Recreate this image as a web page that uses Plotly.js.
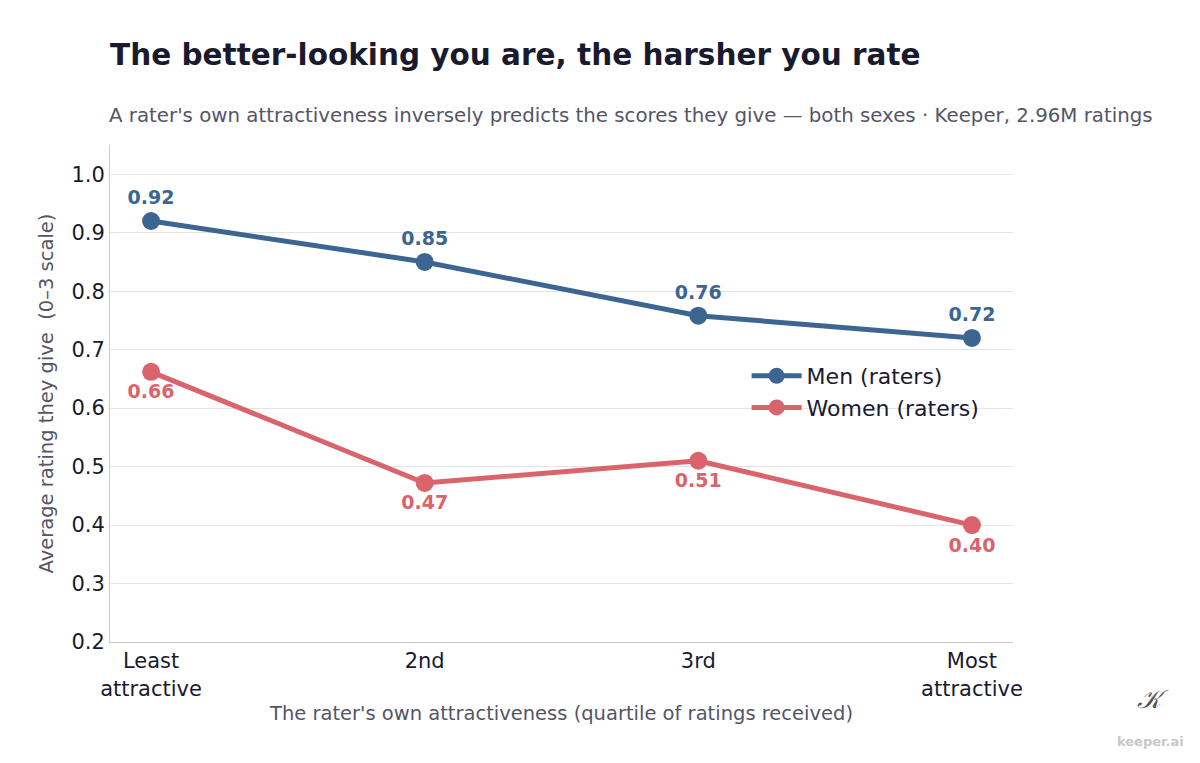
<!DOCTYPE html>
<html><head><meta charset="utf-8">
<script src="https://cdn.plot.ly/plotly-3.0.1.min.js"></script>
<style>body{margin:0;background:#fff}</style></head>
<body><div id="c" style="width:1200px;height:763px"></div>
<script>
const categories = ["Least<br>attractive","2nd","3rd","Most<br>attractive"];
const men = [0.92, 0.85, 0.758, 0.72];
const women = [0.662, 0.472, 0.51, 0.40];
const menLabels = ["0.92","0.85","0.76","0.72"];
const womenLabels = ["0.66","0.47","0.51","0.40"];
const xi = [0,1,2,3];
const F = "DejaVu Sans, sans-serif";
const blue = "#3d6591", red = "#d9646b";
const data = [
 {x:xi,y:men,name:"Men (raters)",mode:"lines+markers+text",text:menLabels,textposition:"top center",
  textfont:{family:F,size:19,color:blue,weight:"bold"},line:{color:blue,width:5},marker:{size:18,color:blue}},
 {x:xi,y:women,name:"Women (raters)",mode:"lines+markers+text",text:womenLabels,textposition:"bottom center",
  textfont:{family:F,size:19,color:red,weight:"bold"},line:{color:red,width:5},marker:{size:18,color:red}}
];
const layout = {
 width:1200,height:763,margin:{l:110,r:187,t:145,b:121},
 paper_bgcolor:"#fff",plot_bgcolor:"#fff",font:{family:F,color:"#1a1a2e"},
 title:{text:"<b>The better-looking you are, the harsher you rate</b>",x:0.0917,xanchor:"left",y:0.928,yanchor:"middle",font:{size:29.5,color:"#1a1a2e",family:F}},
 xaxis:{range:[-0.15,3.15],tickvals:xi,ticktext:categories,showgrid:false,zeroline:false,showline:true,linecolor:"#ccc",
  tickfont:{size:21,color:"#1a1a2e"},title:{text:"The rater's own attractiveness (quartile of ratings received)",font:{size:19.5,color:"#555566"},standoff:6}},
 yaxis:{range:[0.2,1.05],dtick:0.1,tickformat:".1f",gridcolor:"#e3e3e8",zeroline:false,showline:true,linecolor:"#ccc",
  tickfont:{size:21,color:"#1a1a2e"},title:{text:"Average rating they give  (0–3 scale)",font:{size:19.5,color:"#555566"},standoff:12}},
 legend:{x:0.705,y:0.503,xanchor:"left",yanchor:"middle",font:{size:22,color:"#1a1a2e"},bgcolor:"rgba(0,0,0,0)",itemwidth:50},
 showlegend:true,
 annotations:[
  {text:"A rater's own attractiveness inversely predicts the scores they give — both sexes · Keeper, 2.96M ratings",xref:"paper",yref:"paper",
   x:-0.003,xanchor:"left",y:1.0+ (145-115)/497,yanchor:"middle",showarrow:false,font:{size:19.8,color:"#555566"}},
  {text:"<b>keeper.ai</b>",xref:"paper",yref:"paper",x:1.192,xanchor:"right",y:-0.2,yanchor:"middle",showarrow:false,font:{size:13,color:"#c8c8c8"}},
  {text:"<i>𝒦</i>",xref:"paper",yref:"paper",x:1.175,xanchor:"right",y:-0.115,yanchor:"middle",showarrow:false,font:{size:26,color:"#555"}}
 ]
};
Plotly.newPlot("c",data,layout,{displayModeBar:false});
</script></body></html>
